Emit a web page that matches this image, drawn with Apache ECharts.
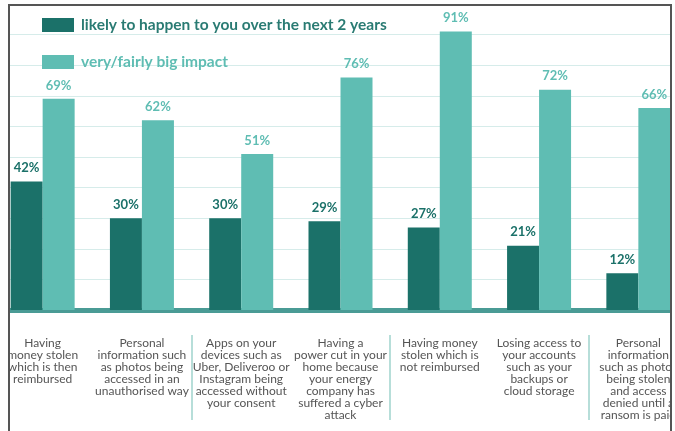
<!DOCTYPE html>
<html>
<head>
<meta charset="utf-8">
<script src="https://cdn.jsdelivr.net/npm/echarts@6/dist/echarts.min.js"></script>
<style>
  body { margin: 0; background: #fff; }
  #frame { position: absolute; left: 8px; top: 4px; width: 660px; height: 427px;
           border: 2px solid #555; border-bottom: none; overflow: hidden; }
  #viz { width: 660px; height: 427px; }
</style>
</head>
<body>
<div id="frame"><div id="viz"></div></div>
<script>
// categories (x axis), two series
var categories = [
  'Having\nmoney stolen\nwhich is then\nreimbursed',
  'Personal\ninformation such\nas photos being\naccessed in an\nunauthorised way',
  'Apps on your\ndevices such as\nUber, Deliveroo or\nInstagram being\naccessed without\nyour consent',
  'Having a\npower cut in your\nhome because\nyour energy\ncompany has\nsuffered a cyber\nattack',
  'Having money\nstolen which is\nnot reimbursed',
  'Losing access to\nyour accounts\nsuch as your\nbackups or\ncloud storage',
  'Personal\ninformation\nsuch as photos\nbeing stolen\nand access\ndenied until a\nransom is paid'
];
var likelyName = 'likely to happen to you over the next 2 years';
var impactName = 'very/fairly big impact';
var likelyValues = [42, 30, 30, 29, 27, 21, 12];
var impactValues = [69, 62, 51, 76, 91, 72, 66];

var darkTeal = '#1b7169';
var lightTeal = '#5fbdb3';
var font = 'Lato';

var myChart = echarts.init(document.getElementById('viz'));

// grid spills past the frame on purpose, the picture is cropped on both sides
var option = {
  animation: false,
  textStyle: { fontFamily: font },
  legend: {
    orient: 'vertical',
    left: 32,
    top: 11,
    padding: 0,
    itemWidth: 32,
    itemHeight: 14,
    itemGap: 21,
    icon: 'rect',
    data: [
      { name: likelyName, textStyle: { color: '#2a7b73' } },
      { name: impactName, textStyle: { color: lightTeal } }
    ],
    textStyle: { fontSize: 15.5, fontWeight: 'bold', fontFamily: font, padding: [0, 0, 0, 2] }
  },
  grid: [
    { left: -17, right: -18, top: -2, bottom: 123, containLabel: false, outerBoundsMode: 'none' },
    { left: -17, right: -18, top: 329, bottom: 13, containLabel: false, outerBoundsMode: 'none' }
  ],
  xAxis: [{
    type: 'category',
    gridIndex: 0,
    data: categories,
    axisLine: { lineStyle: { color: '#4a9b95', width: 5 } },
    axisTick: { show: false },
    axisLabel: {
      interval: 0,
      margin: 27,
      color: '#555',
      fontSize: 12,
      lineHeight: 12,
      fontFamily: font,
      align: 'center',
      verticalAlign: 'top'
    }
  }, {
    type: 'category',
    gridIndex: 1,
    data: categories,
    axisLine: { show: false },
    axisTick: { show: false },
    axisLabel: { show: false },
    splitLine: { show: true, lineStyle: { color: '#9fd3cd', width: 1.5 } }
  }],
  yAxis: [{
    type: 'value',
    gridIndex: 0,
    min: 0,
    max: 100,
    interval: 10,
    axisLabel: { show: false },
    axisLine: { show: false },
    axisTick: { show: false },
    splitLine: { lineStyle: { color: '#d6ecea', width: 1 } }
  }, {
    type: 'value',
    gridIndex: 1,
    show: false,
    splitLine: { show: false }
  }],
  series: [{
    name: likelyName,
    type: 'bar',
    barWidth: 32,
    barGap: '0%',
    itemStyle: { color: darkTeal },
    label: {
      show: true,
      position: 'top',
      distance: 7,
      formatter: '{c}%',
      color: darkTeal,
      fontSize: 13,
      fontWeight: 'bold',
      fontFamily: font
    },
    data: likelyValues
  }, {
    name: impactName,
    type: 'bar',
    barWidth: 32,
    itemStyle: { color: lightTeal },
    label: {
      show: true,
      position: 'top',
      distance: 7,
      formatter: '{c}%',
      color: lightTeal,
      fontSize: 13,
      fontWeight: 'bold',
      fontFamily: font
    },
    data: impactValues
  }]
};

myChart.setOption(option);
</script>
</body>
</html>
